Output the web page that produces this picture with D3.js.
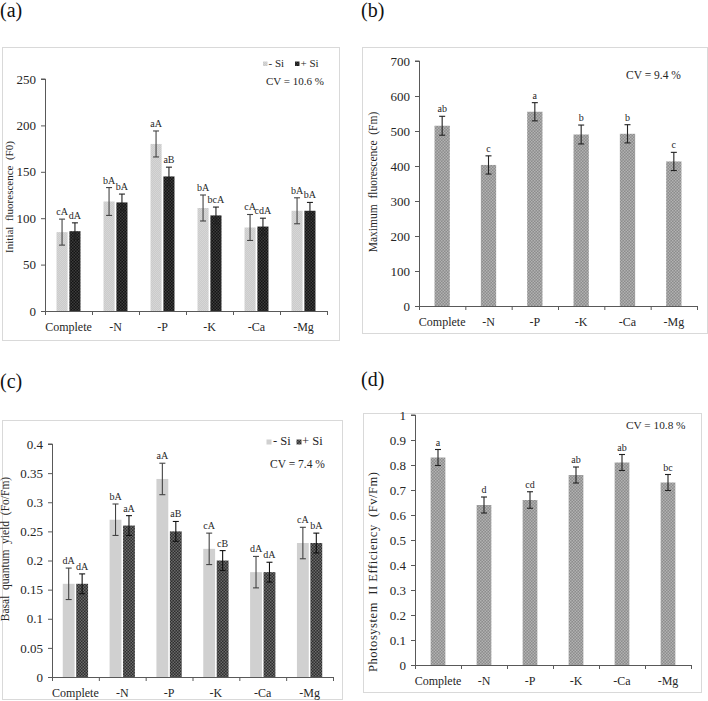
<!DOCTYPE html>
<html><head><meta charset="utf-8">
<script src="https://cdn.jsdelivr.net/npm/d3@7"></script>
<style>
body{margin:0;background:#fff}
svg{display:block}
text{font-family:"Times New Roman",Times,"Liberation Serif",serif;fill:#262626}
</style></head>
<body><svg id="chart" width="708" height="701"></svg>
<script>
// ---------- data ----------
const categories = ["Complete", "-N", "-P", "-K", "-Ca", "-Mg"];
const seriesNames = ["- Si", "+ Si"];

// (a) Initial fluorescence (F0)
const f0NoSi = [85, 118, 180, 111, 90, 108];
const f0Si = [86, 117, 145, 103, 91, 108];
const f0NoSiErr = [14, 15, 14, 14, 14, 14];
const f0SiErr = [9, 9, 10, 9, 9, 9];
const f0NoSiLetters = ["cA", "bA", "aA", "bA", "cA", "bA"];
const f0SiLetters = ["dA", "bA", "aB", "bcA", "cdA", "bA"];
const f0Ticks = [0, 50, 100, 150, 200, 250];

// (b) Maximum fluorescence (Fm)
const fmValues = [515, 403, 555, 490, 492, 413];
const fmErr = [27, 26, 26, 27, 26, 26];
const fmLetters = ["ab", "c", "a", "b", "b", "c"];
const fmTicks = [0, 100, 200, 300, 400, 500, 600, 700];

// (c) Basal quantum yield (Fo/Fm)
const yieldNoSi = [0.16, 0.27, 0.34, 0.22, 0.18, 0.23];
const yieldSi = [0.16, 0.26, 0.25, 0.20, 0.18, 0.23];
const yieldNoSiErr = [0.027, 0.027, 0.027, 0.027, 0.027, 0.027];
const yieldSiErr = [0.017, 0.017, 0.017, 0.017, 0.017, 0.017];
const yieldNoSiLetters = ["dA", "bA", "aA", "cA", "dA", "cA"];
const yieldSiLetters = ["dA", "aA", "aB", "cB", "dA", "bA"];
const yieldTicks = [0, 0.05, 0.1, 0.15, 0.2, 0.25, 0.3, 0.35, 0.4];

// (d) Photosystem II efficiency (Fv/Fm)
const effValues = [0.83, 0.64, 0.66, 0.76, 0.81, 0.73];
const effErr = [0.032, 0.032, 0.033, 0.032, 0.032, 0.032];
const effLetters = ["a", "d", "cd", "ab", "ab", "bc"];
const effTicks = [0, 0.1, 0.2, 0.3, 0.4, 0.5, 0.6, 0.7, 0.8, 0.9, 1];

// ---------- patterns ----------
const FONT = '"Times New Roman",Times,"Liberation Serif",serif';
const svg = d3.select("#chart");
svg.append("rect").attr("width", 708).attr("height", 701).attr("fill", "#fff");
const defs = svg.append("defs");
function checker(id, base, dot, size) {
  const p = defs.append("pattern").attr("id", id).attr("patternUnits", "userSpaceOnUse")
    .attr("width", size * 2).attr("height", size * 2);
  p.append("rect").attr("width", size * 2).attr("height", size * 2).attr("fill", base);
  p.append("rect").attr("width", size).attr("height", size).attr("fill", dot);
  p.append("rect").attr("x", size).attr("y", size).attr("width", size).attr("height", size).attr("fill", dot);
}
checker("patLight", "#cbcbcb", "#d6d6d6", 1);
checker("patBlack", "#141414", "#3c3c3c", 1.5);
checker("patDark", "#2e2e2e", "#6a6a6a", 1.5);
checker("patGrey", "#8c8c8c", "#b2b2b2", 1.5);
const plainLight = "#d0d0d0";

// ---------- panel drawer ----------
function drawPanel(cfg) {
  const g = svg.append("g");
  g.append("rect").attr("x", cfg.frame[0] + 0.5).attr("y", cfg.frame[1] + 0.5)
    .attr("width", cfg.frame[2] - cfg.frame[0]).attr("height", cfg.frame[3] - cfg.frame[1])
    .attr("fill", "#fff").attr("stroke", "#d9d9d9");
  g.append("text").attr("x", cfg.label[0]).attr("y", cfg.label[1])
    .attr("font-size", 20).style("fill", "#111").text(cfg.labelText);

  const y = d3.scaleLinear().domain([0, cfg.ticks[cfg.ticks.length - 1]]).range([cfg.y0, cfg.yTop]);
  const x = d3.scaleBand().domain(categories).range([cfg.x0, cfg.x1]).padding(0);
  const bw = x.bandwidth();
  const inner = d3.scaleBand().domain(d3.range(cfg.series.length))
    .range([bw * cfg.groupPad, bw * (1 - cfg.groupPad)]).paddingInner(cfg.innerPad);

  // y axis
  const ya = g.append("g").attr("transform", `translate(${cfg.x0},0)`)
    .call(d3.axisLeft(y).tickValues(cfg.ticks).tickSize(4).tickPadding(5).tickFormat(d => String(d)));
  ya.attr("font-family", FONT);
  ya.selectAll("path,line").attr("stroke", "#595959");
  ya.selectAll("text").attr("font-size", 13).style("font-family", FONT).style("fill", "#262626");
  ya.select(".domain").attr("d", `M-4,${cfg.y0 + 0.5}H0.5V${cfg.yTop}H-4`);

  // x axis
  const xa = g.append("g").attr("transform", `translate(0,${cfg.y0})`)
    .call(d3.axisBottom(x).tickSize(0).tickPadding(11));
  xa.attr("font-family", FONT);
  xa.selectAll("path").attr("stroke", "#595959").attr("d", `M${cfg.x0},0.5H${cfg.x1}`);
  xa.selectAll("text").attr("font-size", 12).style("font-family", FONT).style("fill", "#262626");
  const bounds = categories.map(c => x(c)).concat([x.range()[1]]);
  g.append("g").selectAll("line").data(bounds).join("line")
    .attr("x1", d => d + 0.5).attr("x2", d => d + 0.5)
    .attr("y1", cfg.y0).attr("y2", cfg.y0 + 4).attr("stroke", "#595959");

  // bars
  cfg.series.forEach((s, si) => {
    const sg = g.append("g");
    categories.forEach((c, i) => {
      const bx = x(c) + inner(si);
      const w = inner.bandwidth();
      const v = s.values[i], e = s.err[i];
      sg.append("rect").attr("x", bx).attr("y", y(v)).attr("width", w)
        .attr("height", y(0) - y(v)).attr("fill", s.fill);
      const cx = bx + w / 2;
      const ec = s.errColor || "#333";
      sg.append("line").attr("x1", cx).attr("x2", cx).attr("y1", y(v - e)).attr("y2", y(v + e))
        .attr("stroke", ec).attr("stroke-width", 1.1);
      [v - e, v + e].forEach(t => sg.append("line").attr("x1", cx - 3).attr("x2", cx + 3)
        .attr("y1", y(t)).attr("y2", y(t)).attr("stroke", ec).attr("stroke-width", 1.1));
      sg.append("text").attr("x", cx).attr("y", y(v + e) - 4)
        .attr("text-anchor", "middle").attr("font-size", 10).text(s.letters[i]);
    });
  });

  // y title
  const t = g.append("text").attr("transform", `translate(${cfg.title[0]},${cfg.title[1]}) rotate(-90)`)
    .attr("text-anchor", "middle").attr("font-size", cfg.titleSize)
    .style("white-space", "pre").text(cfg.titleText);
  if (cfg.titleLength) t.attr("textLength", cfg.titleLength).attr("lengthAdjust", "spacing");

  // CV
  g.append("text").attr("x", cfg.cv[0]).attr("y", cfg.cv[1]).attr("font-size", cfg.cvSize)
    .style("white-space", "pre").text(cfg.cvText);

  // legend
  if (cfg.legend) {
    cfg.legend.items.forEach((it, k) => {
      g.append("rect").attr("x", it[0]).attr("y", cfg.legend.sqY).attr("width", cfg.legend.sq)
        .attr("height", cfg.legend.sq).attr("fill", cfg.series[k].legendFill || cfg.series[k].fill);
      g.append("text").attr("x", it[1]).attr("y", cfg.legend.textY).attr("font-size", cfg.legend.size)
        .style("white-space", "pre").text(seriesNames[k]);
    });
  }
}

// (a)
drawPanel({
  frame: [2, 47, 339, 340], label: [0, 17], labelText: "(a)",
  x0: 45, x1: 327, y0: 311, yTop: 79, ticks: f0Ticks,
  groupPad: 0.245, innerPad: 0.14,
  series: [
    { values: f0NoSi, err: f0NoSiErr, letters: f0NoSiLetters, fill: "url(#patLight)", errColor: "#444" },
    { values: f0Si, err: f0SiErr, letters: f0SiLetters, fill: "url(#patBlack)", errColor: "#222" }
  ],
  title: [13, 197], titleSize: 11, titleText: "Initial  fluorescence  (F0)",
  cv: [266, 84.5], cvSize: 11, cvText: "CV = 10.6 %",
  legend: { sq: 4.5, sqY: 61.5, textY: 67, size: 11, items: [[263, 268.5], [295, 300.5]] }
});

// (b)
drawPanel({
  frame: [362, 47, 707, 333], label: [361, 17], labelText: "(b)",
  x0: 419, x1: 697, y0: 306, yTop: 61, ticks: fmTicks,
  groupPad: 0.335, innerPad: 0,
  series: [{ values: fmValues, err: fmErr, letters: fmLetters, fill: "url(#patGrey)", errColor: "#222" }],
  title: [377, 182], titleSize: 11.5, titleText: "Maximum  fluorescence  (Fm)",
  cv: [626, 78.5], cvSize: 11.5, cvText: "CV = 9.4 %"
});

// (c)
drawPanel({
  frame: [2, 420, 342, 699], label: [0, 388], labelText: "(c)",
  x0: 52, x1: 333, y0: 677, yTop: 444, ticks: yieldTicks,
  groupPad: 0.23, innerPad: 0.12,
  series: [
    { values: yieldNoSi, err: yieldNoSiErr, letters: yieldNoSiLetters, fill: plainLight, errColor: "#444" },
    { values: yieldSi, err: yieldSiErr, letters: yieldSiLetters, fill: "url(#patDark)", errColor: "#111" }
  ],
  title: [9, 549], titleSize: 11.5, titleText: "Basal  quantum  yield  (Fo/Fm)",
  cv: [270, 468], cvSize: 11.5, cvText: "CV = 7.4 %",
  legend: { sq: 5, sqY: 439.5, textY: 445, size: 12.5, items: [[266.5, 273], [296.5, 302]] }
});

// (d)
drawPanel({
  frame: [363, 413, 701, 692], label: [361, 386], labelText: "(d)",
  x0: 415, x1: 691, y0: 665, yTop: 415, ticks: effTicks,
  groupPad: 0.34, innerPad: 0,
  series: [{ values: effValues, err: effErr, letters: effLetters, fill: "url(#patGrey)", errColor: "#222" }],
  title: [377, 572], titleSize: 12.5, titleLength: 200, titleText: "Photosystem  II Efficiency  (Fv/Fm)",
  cv: [626, 428.5], cvSize: 11.3, cvText: "CV = 10.8 %"
});
</script></body></html>
